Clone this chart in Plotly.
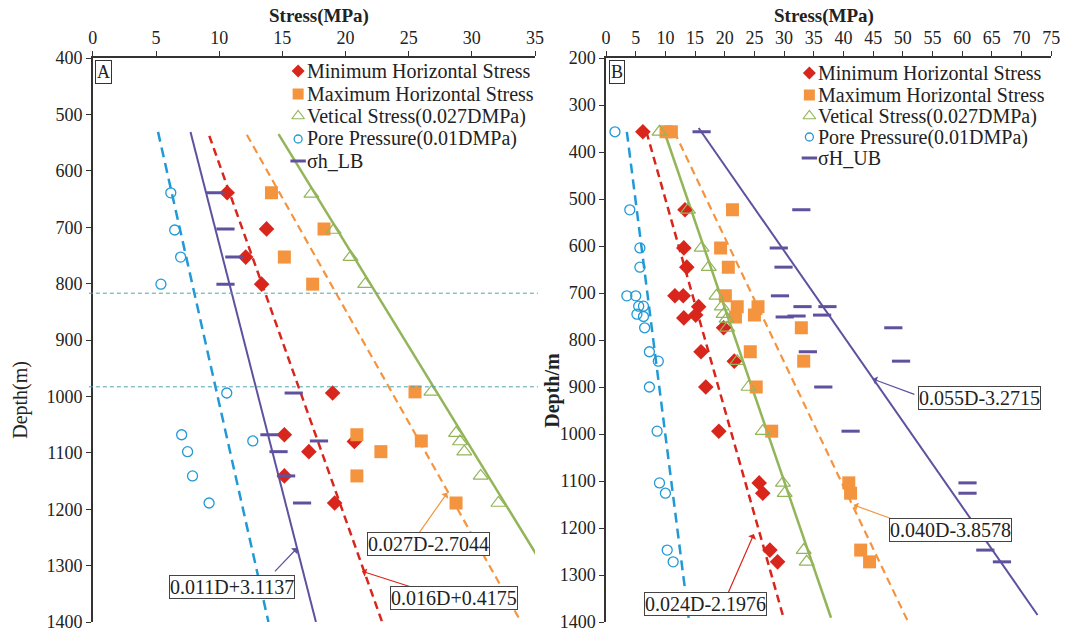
import plotly.graph_objects as go

# ---------------- Panel A data ----------------
A_pore_d = [639, 705, 753, 801, 994, 1068, 1079, 1098, 1141, 1189]
A_pore_s = [6.17, 6.48, 6.95, 5.39, 10.6, 7.03, 12.66, 7.5, 7.89, 9.2]
A_min_d = [639, 703, 753, 801, 994, 1068, 1080, 1098, 1141, 1189]
A_min_s = [10.63, 13.75, 12.1, 13.36, 18.98, 15.16, 20.7, 17.1, 15.16, 19.14]
A_max_d = [639, 703, 753, 801, 992, 1068, 1079, 1098, 1141, 1189]
A_max_s = [14.14, 18.3, 15.16, 17.4, 25.5, 20.9, 26.0, 22.8, 20.9, 28.75]
A_ver_d = [641, 705, 753, 801, 992, 1065, 1080, 1098, 1141, 1189]
A_ver_s = [17.3, 19.06, 20.4, 21.56, 26.8, 28.75, 29.06, 29.4, 30.7, 32.1]
A_lb_d = [639, 703, 753, 801, 994, 1068, 1079, 1098, 1141, 1189]
A_lb_s = [9.7, 10.5, 11.2, 10.5, 15.9, 13.98, 17.9, 14.7, 15.3, 16.56]

# fit lines (depth endpoints, stress endpoints)
A_fit_pore = ([531, 1400], [5.16, 13.9])
A_fit_lb = ([531, 1400], [7.73, 17.66])
A_fit_min = ([538, 1400], [9.22, 22.9])
A_fit_max = ([536, 1400], [12.19, 33.9])
A_fit_ver = ([535, 1279], [14.7, 35.07])
A_hlines = [817, 983]

# ---------------- Panel B data ----------------
B_pore_d = [357, 523, 604, 645, 706, 706, 728, 728, 745, 750, 774, 825, 845, 900, 994, 1104, 1126, 1247, 1272]
B_pore_s = [1.5, 4.0, 5.7, 5.7, 3.5, 5.0, 5.5, 6.3, 5.2, 6.3, 6.5, 7.3, 8.8, 7.3, 8.6, 9.0, 10.0, 10.3, 11.3]
B_min_d = [357, 523, 604, 645, 706, 706, 729, 747, 753, 774, 825, 845, 900, 994, 1104, 1126, 1247, 1272]
B_min_s = [6.2, 13.3, 13.1, 13.6, 11.6, 13.0, 15.6, 15.1, 13.1, 19.8, 16.0, 21.6, 16.8, 19.0, 25.8, 26.4, 27.6, 28.9]
B_max_d = [357, 357, 523, 604, 645, 706, 729, 729, 747, 751, 774, 825, 845, 900, 994, 1104, 1126, 1247, 1272]
B_max_s = [10.1, 11.0, 21.3, 19.3, 20.6, 20.1, 22.1, 25.6, 25.0, 21.8, 32.9, 24.3, 33.3, 25.3, 27.9, 40.9, 41.2, 42.9, 44.4]
B_ver_d = [357, 523, 604, 645, 706, 729, 745, 755, 774, 845, 900, 994, 1104, 1126, 1247, 1272]
B_ver_s = [9.0, 13.8, 16.1, 17.3, 18.6, 19.5, 19.8, 20.3, 20.4, 22.1, 24.0, 26.4, 29.8, 30.1, 33.3, 33.8]
B_ub_d = [357, 523, 604, 645, 706, 729, 729, 747, 749, 751, 774, 825, 845, 900, 994, 1104, 1126, 1247, 1272]
B_ub_s = [16.1, 32.9, 29.1, 29.9, 29.3, 33.1, 37.3, 36.4, 32.1, 30.1, 48.4, 34.0, 49.7, 36.6, 41.2, 60.9, 60.9, 63.9, 66.7]

B_fit_pore = ([357, 1400], [3.5, 14.0])
B_fit_min = ([357, 1391], [6.8, 29.9])
B_fit_ver = ([349, 1391], [9.6, 37.9])
B_fit_max = ([357, 1400], [11.5, 50.9])
B_fit_ub = ([349, 1385], [15.6, 72.7])

A_legend = ["Minimum Horizontal Stress", "Maximum Horizontal Stress", "Vetical Stress(0.027DMPa)",
            "Pore Pressure(0.01DMPa)", "σh_LB"]
B_legend = ["Minimum Horizontal Stress", "Maximum Horizontal Stress", "Vetical Stress(0.027DMPa)",
            "Pore Pressure(0.01DMPa)", "σH_UB"]

# ---------------- styles ----------------
RED = "#d9261c"
ORANGE = "#f5943f"
GREEN = "#93b55a"
BLUE = "#2199d6"
PURPLE = "#5f519e"
AX = "#333333"
TXT = "#222222"
FONT = "Liberation Serif"

STY = {
    "min": dict(symbol="diamond", size=12, color=RED),
    "max": dict(symbol="square", size=13, color=ORANGE),
    "ver": dict(symbol="triangle-up-open", size=13, color=GREEN, line=dict(width=1.2, color=GREEN)),
    "pore": dict(symbol="circle-open", size=10, color=BLUE, line=dict(width=1.3, color=BLUE)),
    "lb": dict(symbol="line-ew", size=13, color=PURPLE, line=dict(width=3, color=PURPLE)),
}
LEG_STY = {
    "min": dict(symbol="diamond", size=10, color=RED),
    "max": dict(symbol="square", size=11, color=ORANGE),
    "ver": dict(symbol="triangle-up-open", size=11, color=GREEN, line=dict(width=1.2, color=GREEN)),
    "pore": dict(symbol="circle-open", size=8, color=BLUE, line=dict(width=1.3, color=BLUE)),
    "lb": dict(symbol="line-ew", size=11, color=PURPLE, line=dict(width=3, color=PURPLE)),
}
KINDS = ["min", "max", "ver", "pore", "lb"]

W, H = 1075, 634
ML, MR, MT, MB = 0, 0, 58, 12
PH = H - MT - MB
A_X0, A_X1, A_XMAX, A_DTOP = 89, 537, 35, 400
B_X0, B_X1, B_XMAX, B_DTOP = 609, 1060, 75, 200


def px(x):
    return x / W


def py(y):
    return (H - MB - y) / PH


# pixel -> data helpers for placing legend symbols inside each panel
def a_xy(pxx, pyy):
    return ((pxx - A_X0) * A_XMAX / (A_X1 - A_X0), A_DTOP + (pyy - MT) * (1400 - A_DTOP) / PH)


def b_xy(pxx, pyy):
    return ((pxx - B_X0) * B_XMAX / (B_X1 - B_X0), B_DTOP + (pyy - MT) * (1400 - B_DTOP) / PH)


fig = go.Figure()


def add_points(d, s, name, kind, xa, ya):
    fig.add_trace(go.Scatter(x=s, y=d, mode="markers", name=name, marker=STY[kind],
                             xaxis=xa, yaxis=ya, showlegend=False))


def add_line(fit, color, dash, xa, ya, width=2.2):
    fig.add_trace(go.Scatter(x=fit[1], y=fit[0], mode="lines",
                             line=dict(color=color, dash=dash, width=width),
                             xaxis=xa, yaxis=ya, showlegend=False, hoverinfo="skip"))


# Panel A lines
add_line(A_fit_pore, BLUE, "10px,6px", "x", "y", 2.5)
add_line(A_fit_lb, PURPLE, "solid", "x", "y", 2)
add_line(A_fit_min, RED, "8px,5px", "x", "y", 2.5)
add_line(A_fit_max, ORANGE, "8px,5px", "x", "y", 2.2)
add_line(A_fit_ver, GREEN, "solid", "x", "y", 2.5)
for d, s, name, kind in [(A_min_d, A_min_s, A_legend[0], "min"), (A_max_d, A_max_s, A_legend[1], "max"),
                         (A_ver_d, A_ver_s, A_legend[2], "ver"), (A_pore_d, A_pore_s, A_legend[3], "pore"),
                         (A_lb_d, A_lb_s, A_legend[4], "lb")]:
    add_points(d, s, name, kind, "x", "y")

# Panel B lines
add_line(B_fit_pore, BLUE, "10px,6px", "x2", "y2", 2.5)
add_line(B_fit_min, RED, "8px,5px", "x2", "y2", 2.5)
add_line(B_fit_ver, GREEN, "solid", "x2", "y2", 2.5)
add_line(B_fit_max, ORANGE, "8px,5px", "x2", "y2", 2.2)
add_line(B_fit_ub, PURPLE, "solid", "x2", "y2", 2)
for d, s, name, kind in [(B_min_d, B_min_s, B_legend[0], "min"), (B_max_d, B_max_s, B_legend[1], "max"),
                         (B_ver_d, B_ver_s, B_legend[2], "ver"), (B_pore_d, B_pore_s, B_legend[3], "pore"),
                         (B_ub_d, B_ub_s, B_legend[4], "lb")]:
    add_points(d, s, name, kind, "x2", "y2")

# Manual legends (symbol + text) inside each panel
ann = []
for names, mx, ys, conv, xa, ya in [(A_legend, 297, [71, 94, 116, 139, 161], a_xy, "x", "y"),
                                    (B_legend, 815, [73, 95, 116, 137, 158], b_xy, "x2", "y2")]:
    for name, kind, yy in zip(names, KINDS, ys):
        lx, ly = conv(mx, yy)
        fig.add_trace(go.Scatter(x=[lx], y=[ly], mode="markers", marker=LEG_STY[kind],
                                 xaxis=xa, yaxis=ya, showlegend=False, hoverinfo="skip"))
        ann.append(dict(text=name, x=px(mx + 7), y=py(yy), xref="paper", yref="paper",
                        xanchor="left", yanchor="middle", showarrow=False,
                        font=dict(family=FONT, size=20, color=TXT)))

axis_common = dict(showgrid=False, zeroline=False, showline=True, linecolor=AX, linewidth=1.5,
                   ticks="outside", ticklen=5, tickwidth=1.3, tickcolor=AX,
                   tickfont=dict(family=FONT, size=18, color=TXT))

fig.update_layout(
    width=W, height=H, margin=dict(l=ML, r=MR, t=MT, b=MB),
    paper_bgcolor="white", plot_bgcolor="white", showlegend=False,
    xaxis=dict(domain=[px(A_X0), px(A_X1)], range=[0, A_XMAX], dtick=5, side="top", anchor="y", **axis_common),
    yaxis=dict(domain=[0, 1], range=[1400, A_DTOP], dtick=100, anchor="x", **axis_common),
    xaxis2=dict(domain=[px(B_X0), px(B_X1)], range=[0, B_XMAX], dtick=5, side="top", anchor="y2", **axis_common),
    yaxis2=dict(domain=[0, 1], range=[1400, B_DTOP], dtick=100, anchor="x2", **axis_common),
)

# Horizontal teal dashed lines in panel A
for h in A_hlines:
    fig.add_shape(type="line", xref="paper", yref="y", x0=px(85), x1=px(540), y0=h, y1=h,
                  line=dict(color="#4fa3b3", width=1, dash="4px,3px"))

# Axis titles
ann.append(dict(text="<b>Stress(MPa)</b>", x=px(318), y=py(16), xref="paper", yref="paper",
                xanchor="center", yanchor="middle", showarrow=False,
                font=dict(family=FONT, size=19, color=TXT)))
ann.append(dict(text="<b>Stress(MPa)</b>", x=px(830), y=py(16), xref="paper", yref="paper",
                xanchor="center", yanchor="middle", showarrow=False,
                font=dict(family=FONT, size=19, color=TXT)))
ann.append(dict(text="Depth(m)", x=px(15), y=py(400), xref="paper", yref="paper", textangle=-90,
                xanchor="center", yanchor="middle", showarrow=False,
                font=dict(family=FONT, size=20, color=TXT)))
ann.append(dict(text="<b>Depth/m</b>", x=px(554), y=py(390), xref="paper", yref="paper", textangle=-90,
                xanchor="center", yanchor="middle", showarrow=False,
                font=dict(family=FONT, size=20, color=TXT)))
# Panel labels
for lab, cx in [("A", 100), ("B", 620)]:
    ann.append(dict(text=lab, x=px(cx), y=py(72), xref="paper", yref="paper", showarrow=False,
                    xanchor="center", yanchor="middle",
                    bordercolor=AX, borderwidth=1, borderpad=1, bgcolor="white",
                    font=dict(family=FONT, size=18, color=TXT)))

# Equation labels: (text, box x, box y, tail x, tail y, head x, head y, color, xref, yref)
eqs = [
    ("0.011D+3.1137", 11.0, 1338, 14.3, 1313, 16.17, 1269, PURPLE, "x", "y"),
    ("0.016D+0.4175", 28.6, 1357, 25.2, 1338, 21.3, 1310, RED, "x", "y"),
    ("0.027D-2.7044", 26.6, 1262, 25.7, 1246, 28.05, 1171, ORANGE, "x", "y"),
    ("0.055D-3.2715", 63.0, 923, 52.2, 917, 44.9, 883, PURPLE, "x2", "y2"),
    ("0.040D-3.8578", 58.0, 1204, 48.7, 1183, 41.7, 1151, ORANGE, "x2", "y2"),
    ("0.024D-2.1976", 16.8, 1362, 20.5, 1340, 24.9, 1213, RED, "x2", "y2"),
]
for t, bx, by, tx, ty, hx, hy, col, xr, yr in eqs:
    ann.append(dict(text="", x=hx, y=hy, ax=tx, ay=ty, xref=xr, yref=yr, axref=xr, ayref=yr,
                    showarrow=True, arrowhead=1, arrowsize=1.2, arrowwidth=1.2, arrowcolor=col,
                    standoff=0, startstandoff=0))
    ann.append(dict(text=t, x=bx, y=by, xref=xr, yref=yr, showarrow=False,
                    xanchor="center", yanchor="middle",
                    bordercolor="#444", borderwidth=1, borderpad=0, bgcolor="white",
                    font=dict(family=FONT, size=20, color=TXT)))

fig.update_layout(annotations=ann)
fig.write_html("out.html")
